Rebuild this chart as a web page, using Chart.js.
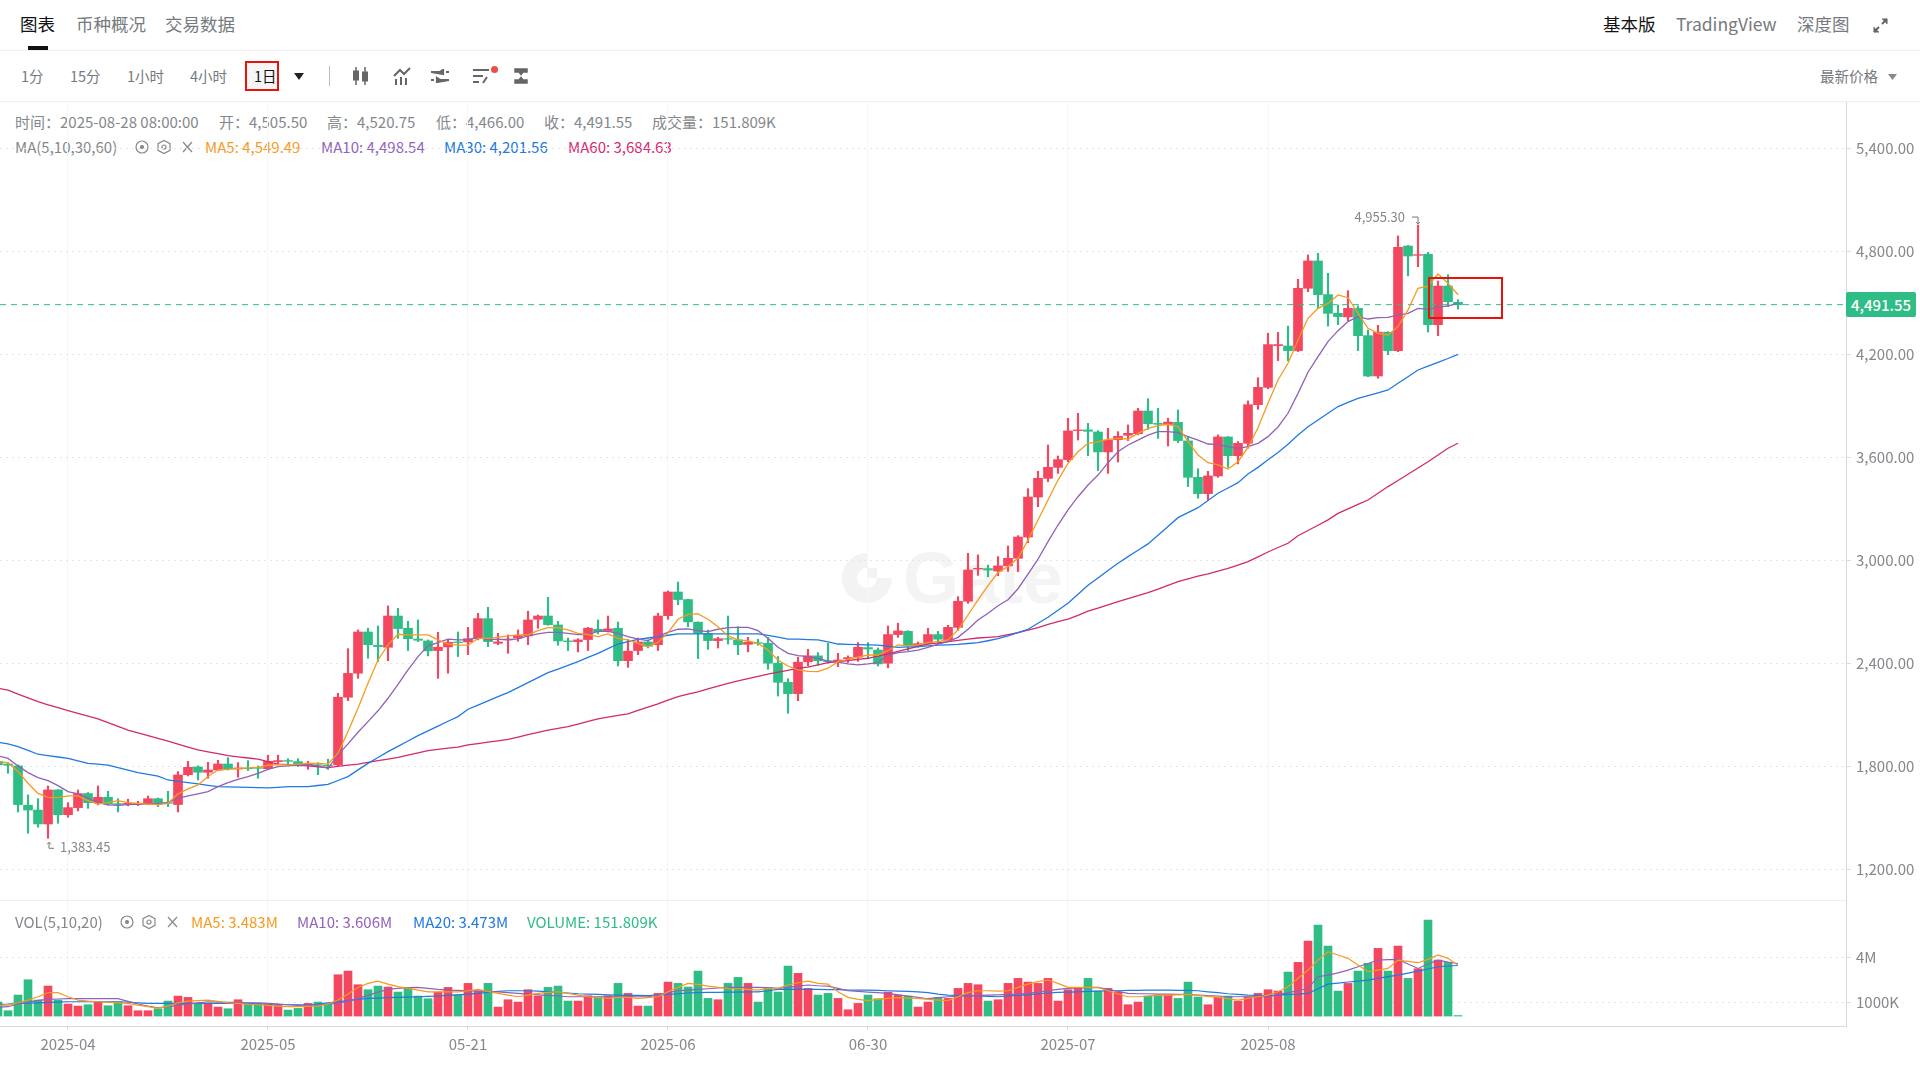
<!DOCTYPE html>
<html lang="zh-CN">
<head>
<meta charset="utf-8">
<title>ETH/USDT</title>
<script src="https://cdn.jsdelivr.net/npm/chart.js@4"></script>
<style>
    html, body { margin: 0; padding: 0; background: #fff; }
    body { width: 1920px; height: 1080px; position: relative; overflow: hidden; font-family: "Noto Sans CJK SC", "Noto Sans", sans-serif; color: #84888c; font-size: 15px; }
    .t { position: absolute; line-height: 20px; white-space: nowrap; }
    .line { position: absolute; background: #efefef; height: 1px; left: 0; width: 1920px; }
    canvas { position: absolute; left: 0; }
    svg { position: absolute; }
    .tab { font-size: 17.5px; line-height: 24px; }
    .tb { font-size: 14.5px; color: #767a7e; }
    .wm { position: absolute; font-size: 72px; line-height: 90px; font-weight: 700; color: #f4f4f4; font-family: "Liberation Sans", sans-serif; }
</style>
</head>
<body>
    <div class="t tab" style="left:20px;top:12px;color:#111">图表</div>
    <div class="t tab" style="left:76px;top:12px;color:#767a7e">币种概况</div>
    <div class="t tab" style="left:165px;top:12px;color:#767a7e">交易数据</div>
    <div style="position:absolute;left:28px;top:46px;width:20px;height:4px;background:#111"></div>
    <div class="t tab" style="left:1603px;top:12px;color:#111">基本版</div>
    <div class="t tab" style="left:1676px;top:12px;color:#767a7e">TradingView</div>
    <div class="t tab" style="left:1797px;top:12px;color:#767a7e">深度图</div>
    <svg style="left:1872px;top:17px" width="17" height="17" viewBox="0 0 17 17" fill="none" stroke="#666" stroke-width="2"><path d="M2 15L7 10M10 7L15 2"/><path d="M10 2h5v5M2 10v5h5" fill="#666" stroke-width="1"/></svg>
    <div class="line" style="top:50px"></div>

    <div class="t tb" style="left:21px;top:66px">1分</div>
    <div class="t tb" style="left:70px;top:66px">15分</div>
    <div class="t tb" style="left:127px;top:66px">1小时</div>
    <div class="t tb" style="left:190px;top:66px">4小时</div>
    <div style="position:absolute;left:245px;top:61px;width:30px;height:26px;border:2px solid #e8140c;background:#f6f6f6"></div>
    <div class="t tb" style="left:254px;top:66px;color:#111">1日</div>
    <svg style="left:293px;top:72px" width="12" height="9" viewBox="0 0 12 9"><path d="M1 1h10L6 8z" fill="#222"/></svg>
    <div style="position:absolute;left:329px;top:66px;width:1px;height:20px;background:#bbb"></div>
    <svg style="left:352px;top:66px" width="18" height="20" viewBox="0 0 18 20" fill="#666" stroke="#666"><path d="M4 1v18M13 1v18" stroke-width="1.5"/><rect x="1.5" y="5" width="5" height="9"/><rect x="10.5" y="6" width="5" height="9"/></svg>
    <svg style="left:393px;top:67px" width="18" height="18" viewBox="0 0 18 18" fill="none" stroke="#666" stroke-width="2"><path d="M1 9L7 3L11 7L17 1"/><path d="M3 18v-6M8 18v-8M13 18v-7"/></svg>
    <svg style="left:431px;top:69px" width="18" height="14" viewBox="0 0 18 14" fill="none" stroke="#666" stroke-width="2.2"><path d="M0 3h9l3 -2v4zM18 3h-3M18 11h-9l-3 -2v4zM0 11h3"/></svg>
    <svg style="left:473px;top:68px" width="18" height="16" viewBox="0 0 18 16" fill="none" stroke="#666" stroke-width="2"><path d="M0 2h16M0 8h10M0 14h6M10 15l4-6"/></svg>
    <svg style="left:490px;top:65px" width="9" height="9"><circle cx="4.500" cy="4.500" r="3.500" fill="#ee4b4b"/></svg>
    <svg style="left:512px;top:67px" width="18" height="18" viewBox="0 0 18 18" fill="#666" stroke="#666" stroke-width="1.5"><path d="M3 2h12v3h-4l-2 2.500L7 5H3zM3 16h12v-3h-4L9 10.500 7 13H3z"/></svg>
    <div class="t tb" style="left:1820px;top:66px">最新价格</div>
    <svg style="left:1888px;top:74px" width="9" height="6" viewBox="0 0 9 6"><path d="M0 0h9L4.500 6z" fill="#888"/></svg>
    <div class="line" style="top:101px"></div>

    <div class="t" style="left:15px;top:112px">时间：2025-08-28 08:00:00</div>
    <div class="t" style="left:219px;top:112px">开：4,505.50</div>
    <div class="t" style="left:327px;top:112px">高：4,520.75</div>
    <div class="t" style="left:436px;top:112px">低：4,466.00</div>
    <div class="t" style="left:544px;top:112px">收：4,491.55</div>
    <div class="t" style="left:652px;top:112px">成交量：151.809K</div>

    <div class="t" style="left:15px;top:137px">MA(5,10,30,60)</div>
    <svg style="left:134px;top:139px" width="60" height="16" viewBox="0 0 60 16" fill="none" stroke="#888" stroke-width="1.2"><circle cx="8" cy="8" r="6"/><circle cx="8" cy="8" r="1.500" fill="#888"/><path d="M30 1.500l6 3.200v6.600l-6 3.200-6-3.200V4.700z"/><circle cx="30" cy="8" r="2"/><path d="M49 3l9 10M58 3l-9 10"/></svg>
    <div class="t" style="left:205px;top:137px;color:#f79a1e">MA5: 4,549.49</div>
    <div class="t" style="left:321px;top:137px;color:#9263bd">MA10: 4,498.54</div>
    <div class="t" style="left:444px;top:137px;color:#2279e0">MA30: 4,201.56</div>
    <div class="t" style="left:568px;top:137px;color:#d82a72">MA60: 3,684.63</div>

    <svg style="left:842px;top:553px" width="50" height="50" viewBox="0 0 50 50"><path d="M25 0a25 25 0 1 0 25 25H35a10 10 0 1 1-10-10z" fill="#f3f3f3"/><rect x="25" y="15" width="10" height="10" fill="#f3f3f3"/></svg>
    <div class="wm" style="left:903px;top:533px">Gate</div>

    <canvas id="priceChart" width="1920" height="798" style="top:102px"></canvas>
    <canvas id="volumeChart" width="1920" height="180" style="top:900px"></canvas>

    <div class="line" style="top:900px;width:1846px"></div>
    <div style="position:absolute;left:1846px;top:292px;width:70px;height:25px;background:#2ebd85;border-radius:2px;color:#fff;font-weight:500;font-size:15px;line-height:25px;text-align:center">4,491.55</div>
    <div style="position:absolute;left:1428px;top:277px;width:71px;height:38px;border:2px solid #e8140c"></div>

    <div class="t" style="left:15px;top:912px">VOL(5,10,20)</div>
    <svg style="left:119px;top:914px" width="60" height="16" viewBox="0 0 60 16" fill="none" stroke="#888" stroke-width="1.2"><circle cx="8" cy="8" r="6"/><circle cx="8" cy="8" r="1.500" fill="#888"/><path d="M30 1.500l6 3.200v6.600l-6 3.200-6-3.200V4.700z"/><circle cx="30" cy="8" r="2"/><path d="M49 3l9 10M58 3l-9 10"/></svg>
    <div class="t" style="left:191px;top:912px;color:#f79a1e">MA5: 3.483M</div>
    <div class="t" style="left:297px;top:912px;color:#9263bd">MA10: 3.606M</div>
    <div class="t" style="left:413px;top:912px;color:#2279e0">MA20: 3.473M</div>
    <div class="t" style="left:527px;top:912px;color:#2ebd85">VOLUME: 151.809K</div>

<script>
// candles, first one is cut by the left edge
const opens = [1832,
    1816,1805,1576,1548,1467,1665,1521,1562,1644,1591,
    1622,1585,1583,1581,1583,1614,1591,1580,1754,1799,
    1768,1781,1816,1787,1793,1795,1789,1830,1836,1830,
    1811,1812,1809,1811,2205,2345,2585,2508,2496,2678,
    2607,2544,2533,2477,2498,2527,2527,2546,2663,2519,
    2539,2550,2562,2659,2678,2626,2533,2529,2541,2601,
    2589,2607,2418,2477,2527,2511,2680,2818,2774,2642,
    2576,2535,2546,2539,2513,2523,2519,2403,2292,2226,
    2411,2446,2416,2418,2430,2438,2494,2480,2403,2570,
    2589,2506,2519,2570,2539,2612,2764,2952,2954,2940,
    2970,3014,3138,3371,3480,3544,3589,3758,3762,3750,
    3634,3705,3731,3740,3872,3800,3793,3806,3698,3486,
    3391,3494,3721,3612,3684,3909,4010,4253,4251,4224,
    4587,4746,4550,4441,4420,4470,4311,4076,4331,4224,
    4833,4779,4785,4375,4600,4505.5];
const closes = [1812,
    1809,1580,1548,1467,1665,1521,1562,1644,1591,1622,
    1583,1581,1587,1587,1614,1583,1587,1752,1797,1768,
    1781,1816,1787,1793,1789,1791,1832,1836,1832,1807,
    1816,1809,1805,2205,2344,2585,2511,2500,2678,2605,
    2546,2537,2475,2496,2525,2523,2546,2663,2529,2527,
    2544,2564,2655,2678,2628,2533,2529,2539,2607,2587,
    2603,2418,2473,2527,2502,2678,2818,2774,2644,2578,
    2535,2546,2543,2511,2525,2519,2403,2292,2226,2409,
    2446,2418,2412,2422,2436,2496,2486,2399,2570,2591,
    2504,2517,2570,2543,2612,2764,2946,2956,2946,2970,
    3014,3138,3371,3480,3544,3589,3756,3762,3754,3634,
    3703,3725,3742,3872,3798,3795,3808,3700,3486,3391,
    3494,3721,3612,3684,3909,4010,4259,4259,4224,4587,
    4746,4550,4441,4422,4470,4311,4076,4331,4224,4826,
    4775,4783,4375,4600,4509,4491.55];
const highs = [1845,
    1824,1811,1636,1614,1688,1668,1591,1665,1650,1688,
    1657,1614,1611,1599,1630,1618,1657,1772,1832,1805,
    1826,1838,1853,1824,1836,1805,1867,1867,1847,1847,
    1832,1824,1844,2228,2488,2597,2607,2620,2737,2723,
    2647,2655,2539,2583,2539,2585,2612,2694,2729,2577,
    2568,2597,2706,2684,2787,2647,2550,2546,2612,2655,
    2678,2643,2539,2550,2539,2694,2824,2876,2776,2644,
    2597,2554,2678,2616,2554,2543,2554,2442,2313,2438,
    2484,2465,2519,2461,2446,2523,2523,2492,2620,2636,
    2593,2527,2607,2589,2624,2791,3043,3034,2975,3024,
    3086,3146,3420,3521,3674,3610,3830,3859,3800,3758,
    3771,3752,3791,3888,3944,3888,3830,3878,3723,3536,
    3521,3733,3723,3694,3931,4066,4325,4330,4367,4639,
    4781,4791,4674,4490,4573,4484,4344,4371,4334,4892,
    4837,4955.3,4796,4629,4666,4520.75];
const lows = [1790,
    1762,1537,1413,1448,1383.45,1471,1506,1543,1558,1578,
    1577,1537,1572,1574,1580,1568,1568,1537,1746,1723,
    1733,1778,1781,1739,1778,1733,1785,1811,1807,1801,
    1785,1754,1785,1805,2185,2315,2432,2412,2418,2548,
    2477,2529,2446,2315,2345,2442,2453,2539,2500,2511,
    2461,2531,2511,2607,2624,2508,2477,2469,2477,2574,
    2585,2387,2379,2453,2492,2477,2659,2744,2616,2430,
    2484,2492,2515,2453,2469,2508,2368,2212,2112,2185,
    2387,2391,2403,2383,2407,2414,2430,2387,2376,2554,
    2477,2496,2515,2515,2531,2593,2752,2915,2907,2913,
    2938,2937,3105,3315,3461,3509,3577,3703,3612,3525,
    3509,3575,3700,3733,3765,3713,3668,3688,3432,3364,
    3354,3486,3544,3564,3655,3882,4002,4166,4164,4218,
    4567,4470,4367,4375,4398,4224,4072,4063,4200,4218,
    4659,4713,4332,4311,4480,4466];

const ma5 = [1830,
    1824,1772,1704,1645,1622,1620,1630,1630,1603,1583,
    1591,1603,1591,1587,1583,1580,1587,1642,1671,1694,
    1743,1781,1785,1791,1793,1797,1809,1812,1811,1816,
    1820,1820,1816,1879,2005,2141,2286,2422,2510,2572,
    2568,2568,2568,2539,2515,2508,2508,2548,2548,2554,
    2562,2568,2568,2593,2610,2610,2597,2577,2570,2558,
    2574,2548,2539,2519,2500,2525,2581,2659,2688,2690,
    2659,2616,2562,2539,2533,2519,2480,2422,2387,2364,
    2356,2354,2374,2412,2426,2438,2451,2451,2477,2510,
    2504,2510,2523,2529,2539,2597,2684,2772,2855,2931,
    2966,3014,3121,3237,3354,3470,3567,3635,3684,3694,
    3707,3713,3709,3742,3771,3787,3795,3781,3694,3616,
    3571,3558,3534,3577,3660,3775,3917,4053,4150,4286,
    4412,4470,4499,4548,4532,4441,4354,4325,4315,4364,
    4461,4587,4600,4670,4616,4549.49];
const ma10 = [1863,
    1849,1805,1766,1737,1719,1690,1655,1642,1616,1593,
    1578,1576,1580,1581,1585,1587,1591,1616,1630,1642,
    1655,1684,1708,1727,1743,1762,1785,1801,1805,1809,
    1811,1805,1791,1869,1933,2001,2063,2126,2199,2280,
    2364,2442,2504,2523,2544,2539,2539,2554,2539,2543,
    2539,2545,2562,2574,2583,2583,2577,2570,2570,2589,
    2589,2577,2558,2543,2535,2562,2583,2601,2603,2593,
    2587,2601,2610,2612,2612,2593,2548,2496,2461,2447,
    2442,2432,2416,2409,2399,2393,2399,2407,2451,2465,
    2471,2480,2496,2515,2529,2554,2601,2655,2694,2738,
    2773,2837,2922,3009,3111,3208,3296,3373,3441,3499,
    3571,3635,3674,3703,3732,3752,3752,3746,3723,3703,
    3680,3678,3665,3655,3665,3684,3723,3779,3859,3975,
    4098,4189,4276,4340,4393,4422,4408,4416,4418,4431,
    4441,4470,4464,4476,4484,4498.54];
const ma30 = [1943,
    1933,1917,1895,1873,1865,1857,1849,1835,1820,1815,
    1809,1795,1780,1766,1756,1746,1723,1715,1708,1700,
    1692,1684,1683,1681,1680,1679,1677,1680,1684,1684,
    1684,1691,1698,1720,1743,1782,1820,1854,1888,1919,
    1950,1981,2009,2037,2065,2092,2135,2159,2184,2208,
    2232,2261,2290,2319,2348,2369,2390,2412,2437,2461,
    2488,2515,2529,2542,2550,2558,2566,2574,2574,2574,
    2574,2574,2574,2574,2574,2574,2565,2555,2544,2543,
    2541,2539,2527,2515,2513,2511,2510,2508,2502,2496,
    2498,2500,2504,2508,2510,2513,2518,2523,2534,2546,
    2563,2581,2601,2636,2671,2712,2752,2805,2857,2900,
    2943,2985,3024,3061,3098,3149,3200,3251,3280,3309,
    3351,3393,3424,3455,3505,3544,3588,3631,3678,3732,
    3781,3820,3859,3898,3922,3946,3962,3978,3995,4034,
    4072,4111,4133,4156,4178,4201.56];
const ma60 = [2257,
    2247,2223,2201,2179,2161,2144,2127,2111,2095,2079,
    2057,2035,2014,1998,1982,1966,1949,1932,1915,1898,
    1887,1876,1865,1858,1851,1844,1830,1816,1812,1808,
    1805,1800,1795,1802,1809,1816,1826,1836,1845,1855,
    1868,1881,1894,1901,1908,1915,1927,1935,1943,1951,
    1960,1973,1987,2000,2014,2024,2034,2049,2064,2079,
    2089,2099,2108,2128,2147,2166,2188,2209,2223,2236,
    2253,2270,2286,2300,2313,2326,2339,2351,2362,2374,
    2381,2394,2407,2413,2419,2426,2432,2445,2457,2472,
    2487,2502,2515,2522,2529,2536,2543,2550,2554,2558,
    2570,2581,2596,2611,2630,2645,2660,2682,2706,2724,
    2743,2762,2780,2797,2814,2835,2857,2878,2895,2911,
    2923,2940,2956,2975,2995,3023,3051,3077,3102,3146,
    3176,3207,3238,3276,3302,3328,3354,3393,3432,3467,
    3504,3540,3577,3616,3655,3684.63];

// volume in millions
const volumes = [1.05,
    .473,1.513,2.53,1.181,2.11,1.181,.916,.783,.871,1.048,
    .805,1.048,.805,.473,.473,.606,1.115,1.446,1.358,.938,
    .96,.716,.606,1.203,.96,.96,.893,.827,.517,.628,
    .96,1.048,.938,2.862,3.105,2.198,1.867,2.11,2.044,1.712,
    1.955,1.446,1.27,1.712,2.022,1.535,2.287,1.8,2.287,.716,
    1.203,1.048,1.867,1.446,2.022,2.11,1.115,1.115,1.468,1.38,
    1.468,2.287,1.623,.783,.783,1.623,2.375,2.287,2.044,3.105,
    1.292,1.203,2.287,2.685,2.287,1.048,2.022,1.712,3.437,2.951,
    1.955,1.513,1.623,1.292,.539,.96,1.513,1.27,1.712,1.513,
    1.446,.716,1.048,1.358,1.292,1.955,2.287,2.198,1.115,1.203,
    2.287,2.619,2.375,2.287,2.619,1.115,1.867,2.022,2.619,1.778,
    1.955,1.712,.871,1.048,1.446,1.513,1.513,1.292,2.375,1.38,
    .871,1.38,1.446,1.115,1.38,1.623,1.867,1.778,3.039,3.681,
    5.096,6.158,4.764,1.778,2.287,3.105,3.614,4.61,3.105,4.764,
    2.619,3.26,6.49,3.835,3.681,.151809];
const volMa5 = [.82,
    .85,1.0,1.18,1.40,1.67,1.67,1.40,1.18,1.11,1.07,
    1.03,1.0,.96,.85,.74,.63,.78,1.0,1.11,1.14,
    1.18,1.09,1.0,.96,.89,.87,.83,.78,.74,.74,
    .76,.78,.92,1.18,1.58,2.02,2.29,2.44,2.24,2.07,
    1.96,1.84,1.73,1.73,1.73,1.73,1.8,1.89,1.76,1.62,
    1.51,1.40,1.51,1.62,1.69,1.73,1.62,1.51,1.40,1.34,
    1.29,1.36,1.36,1.29,1.34,1.40,1.73,2.02,2.29,2.22,
    2.11,2.02,1.96,1.93,1.89,1.84,1.96,1.96,2.18,2.33,
    2.44,2.29,2.24,1.73,1.36,1.23,1.14,1.23,1.29,1.34,
    1.31,1.29,1.23,1.18,1.14,1.40,1.67,1.80,1.80,1.78,
    1.80,2.02,2.24,2.40,2.51,2.29,2.02,2.02,2.02,2.02,
    1.80,1.58,1.40,1.40,1.45,1.49,1.51,1.53,1.56,1.49,
    1.42,1.36,1.27,1.18,1.29,1.40,1.51,1.73,2.07,2.62,
    3.17,3.83,4.39,4.17,3.95,3.50,3.06,3.17,3.28,3.83,
    3.75,3.66,3.88,4.17,3.95,3.483];
const volMa10 = [.70,
    .74,.92,1.05,1.16,1.23,1.25,1.27,1.27,1.27,1.27,
    1.27,1.27,1.09,.92,.78,.67,.74,.83,.92,1.0,
    1.07,1.05,1.03,1.03,1.0,1.0,.96,.92,.87,.83,
    .85,.87,.92,.96,1.11,1.29,1.49,1.71,1.89,1.96,
    2.0,2.02,1.96,1.89,1.84,1.82,1.8,1.78,1.76,1.73,
    1.67,1.62,1.58,1.53,1.49,1.45,1.40,1.40,1.40,1.40,
    1.40,1.40,1.40,1.40,1.40,1.53,1.67,1.80,1.84,1.89,
    1.93,1.98,2.02,2.02,2.02,2.02,2.0,1.96,2.02,2.11,
    2.18,2.13,2.11,1.96,1.80,1.76,1.71,1.67,1.62,1.53,
    1.45,1.36,1.27,1.34,1.40,1.42,1.45,1.49,1.51,1.53,
    1.56,1.58,1.62,1.71,1.80,1.89,1.96,1.98,2.0,2.02,
    1.89,1.76,1.62,1.60,1.60,1.58,1.58,1.56,1.56,1.51,
    1.47,1.45,1.40,1.40,1.40,1.40,1.40,1.53,1.67,1.80,
    1.96,2.73,2.84,2.99,3.17,3.39,3.61,3.83,3.86,3.88,
    3.57,3.28,3.57,3.83,3.70,3.606];
const volMa20 = [.90,
    .92,.96,.98,1.0,1.03,1.05,1.07,1.07,1.07,1.07,
    1.07,1.07,1.05,1.0,.96,.96,.96,.96,.96,.96,
    .96,.96,.96,.96,.96,.94,.92,.89,.87,.87,
    .85,.92,1.0,1.07,1.14,1.23,1.29,1.31,1.34,1.36,
    1.38,1.40,1.42,1.45,1.49,1.53,1.58,1.62,1.69,1.76,
    1.80,1.80,1.80,1.78,1.73,1.69,1.65,1.60,1.58,1.56,
    1.53,1.51,1.49,1.49,1.47,1.51,1.56,1.60,1.65,1.67,
    1.69,1.69,1.71,1.71,1.73,1.73,1.80,1.89,1.89,1.89,
    1.89,1.89,1.87,1.87,1.84,1.84,1.84,1.82,1.80,1.78,
    1.76,1.73,1.67,1.58,1.51,1.49,1.47,1.45,1.42,1.40,
    1.45,1.49,1.53,1.60,1.65,1.69,1.71,1.73,1.76,1.78,
    1.80,1.80,1.82,1.82,1.84,1.84,1.84,1.82,1.82,1.80,
    1.73,1.67,1.60,1.56,1.51,1.49,1.47,1.51,1.56,1.58,
    1.62,1.93,2.24,2.31,2.38,2.44,2.51,2.62,2.73,2.84,
    2.97,3.10,3.24,3.39,3.44,3.473];

const timeTickIndexes = [7, 27, 47, 67, 87, 107, 127];
const timeTickLabels = ['2025-04', '2025-05', '05-21', '2025-06', '06-30', '2025-07', '2025-08'];
const priceTicks = [5400, 4800, 4200, 3600, 3000, 2400, 1800, 1200];
const volumeTicks = [4, 1];
const lastPrice = 4491.55;
const highIndex = 142;
const lowIndex = 5;

const UP = '#f5465f';
const DOWN = '#2ebd85';
const ORANGE = '#f79a1e';
const PURPLE = '#8e62b8';
const BLUE = '#2279e0';
const PINK = '#d32a6c';
const FONT = '"Noto Sans CJK SC", "Noto Sans", sans-serif';
const TEXT = '#84888c';

// the plot is 1846px wide and one bar takes 10px
const xMin = 0.2;
const xMax = 184.8;

const candleColors = opens.map((o, i) => closes[i] >= o ? UP : DOWN);
const points = (values) => values.map((v, i) => ({ x: i, y: v }));

// no room for half a label at the plot edges, the panes must fill their boxes
const noScalePadding = (scale) => {
    scale.paddingTop = 0;
    scale.paddingBottom = 0;
    scale.paddingLeft = 0;
    scale.paddingRight = 0;
};

const lineSet = (values, color, width) => ({
    type: 'line',
    data: points(values),
    borderColor: color,
    borderWidth: width,
    pointRadius: 0,
    order: 1,
});

const xScale = (showLabels) => ({
    type: 'linear',
    min: xMin,
    max: xMax,
    offset: false,
    afterBuildTicks: (scale) => { scale.ticks = timeTickIndexes.map(v => ({ value: v })); },
    afterFit: (scale) => { scale.height = showLabels ? 54 : 0; noScalePadding(scale); },
    grid: { color: '#f7f7f7', offset: false, drawTicks: showLabels, tickLength: 4, tickColor: '#d9d9d9' },
    border: { display: showLabels, color: '#d9d9d9' },
    ticks: {
        display: showLabels,
        autoSkip: false,
        maxRotation: 0,
        padding: 5,
        color: TEXT,
        font: { family: FONT, size: 15 },
        callback: (v) => timeTickLabels[timeTickIndexes.indexOf(v)],
    },
});

const yScale = (min, max, tickValues, format) => ({
    position: 'right',
    min,
    max,
    afterBuildTicks: (scale) => { scale.ticks = tickValues.map(v => ({ value: v })); },
    afterFit: (scale) => { scale.width = 74; noScalePadding(scale); },
    grid: { color: '#e6e6e6', tickLength: 5, tickColor: '#dcdcdc' },
    border: { color: '#d9d9d9', dash: [2, 4] },
    ticks: { padding: 5, color: TEXT, font: { family: FONT, size: 15 }, callback: format },
});

const commonOptions = {
    responsive: false,
    animation: false,
    events: [],
    layout: { padding: 0 },
    plugins: { legend: { display: false }, tooltip: { enabled: false } },
};

// labels and little arrows at the highest and lowest price
const extremesPlugin = {
    id: 'extremes',
    afterDatasetsDraw(chart) {
        const { ctx, scales } = chart;
        const hx = scales.x.getPixelForValue(highIndex);
        const hy = scales.y.getPixelForValue(highs[highIndex]);
        const lx = scales.x.getPixelForValue(lowIndex);
        const ly = scales.y.getPixelForValue(lows[lowIndex]);
        ctx.save();
        ctx.fillStyle = TEXT;
        ctx.strokeStyle = '#777';
        ctx.lineWidth = 1;
        ctx.font = `13px ${FONT}`;
        ctx.textBaseline = 'middle';
        ctx.textAlign = 'right';
        ctx.fillText(highs[highIndex].toLocaleString('en-US', { minimumFractionDigits: 2 }), hx - 13, hy - 8);
        ctx.beginPath();
        ctx.moveTo(hx - 6, hy - 8);
        ctx.lineTo(hx, hy - 8);
        ctx.lineTo(hx, hy - 1);
        ctx.moveTo(hx - 2, hy - 3);
        ctx.lineTo(hx, hy - 1);
        ctx.lineTo(hx + 2, hy - 3);
        ctx.stroke();
        ctx.textAlign = 'left';
        ctx.fillText(lows[lowIndex].toLocaleString('en-US', { minimumFractionDigits: 2 }), lx + 12, ly + 9);
        ctx.beginPath();
        ctx.moveTo(lx + 6, ly + 10);
        ctx.lineTo(lx + 1, ly + 10);
        ctx.lineTo(lx + 1, ly + 4);
        ctx.moveTo(lx - 1, ly + 6);
        ctx.lineTo(lx + 1, ly + 4);
        ctx.lineTo(lx + 3, ly + 6);
        ctx.stroke();
        ctx.restore();
    },
};

new Chart(document.getElementById('priceChart').getContext('2d'), {
    type: 'bar',
    data: {
        datasets: [
            lineSet(ma5, ORANGE, 1.3),
            lineSet(ma10, PURPLE, 1.3),
            lineSet(ma30, BLUE, 1.3),
            lineSet(ma60, PINK, 1.3),
            {
                type: 'line',
                data: [{ x: xMin, y: lastPrice }, { x: xMax, y: lastPrice }],
                borderColor: DOWN,
                borderWidth: 1,
                borderDash: [6, 5],
                pointRadius: 0,
                order: 2,
            },
            {
                data: opens.map((o, i) => ({ x: i, y: [o, closes[i]] })),
                backgroundColor: candleColors,
                barThickness: 9,
                grouped: false,
                order: 3,
            },
            {
                data: lows.map((l, i) => ({ x: i, y: [l, highs[i]] })),
                backgroundColor: candleColors,
                barThickness: 1.5,
                grouped: false,
                order: 4,
            },
        ],
    },
    options: {
        ...commonOptions,
        scales: {
            x: xScale(false),
            y: yScale(1024, 5672, priceTicks, (v) => v.toLocaleString('en-US', { minimumFractionDigits: 2 })),
        },
    },
    plugins: [extremesPlugin],
});

new Chart(document.getElementById('volumeChart').getContext('2d'), {
    type: 'bar',
    data: {
        datasets: [
            lineSet(volMa5, ORANGE, 1.2),
            lineSet(volMa10, PURPLE, 1.2),
            lineSet(volMa20, BLUE, 1.2),
            {
                data: points(volumes),
                backgroundColor: candleColors,
                barThickness: 8,
                base: 0.12,
                order: 2,
            },
        ],
    },
    options: {
        ...commonOptions,
        scales: {
            x: xScale(true),
            y: yScale(-0.54, 7.82, volumeTicks, (v) => v === 1 ? '1000K' : `${v}M`),
        },
    },
});
</script>
</body>
</html>
